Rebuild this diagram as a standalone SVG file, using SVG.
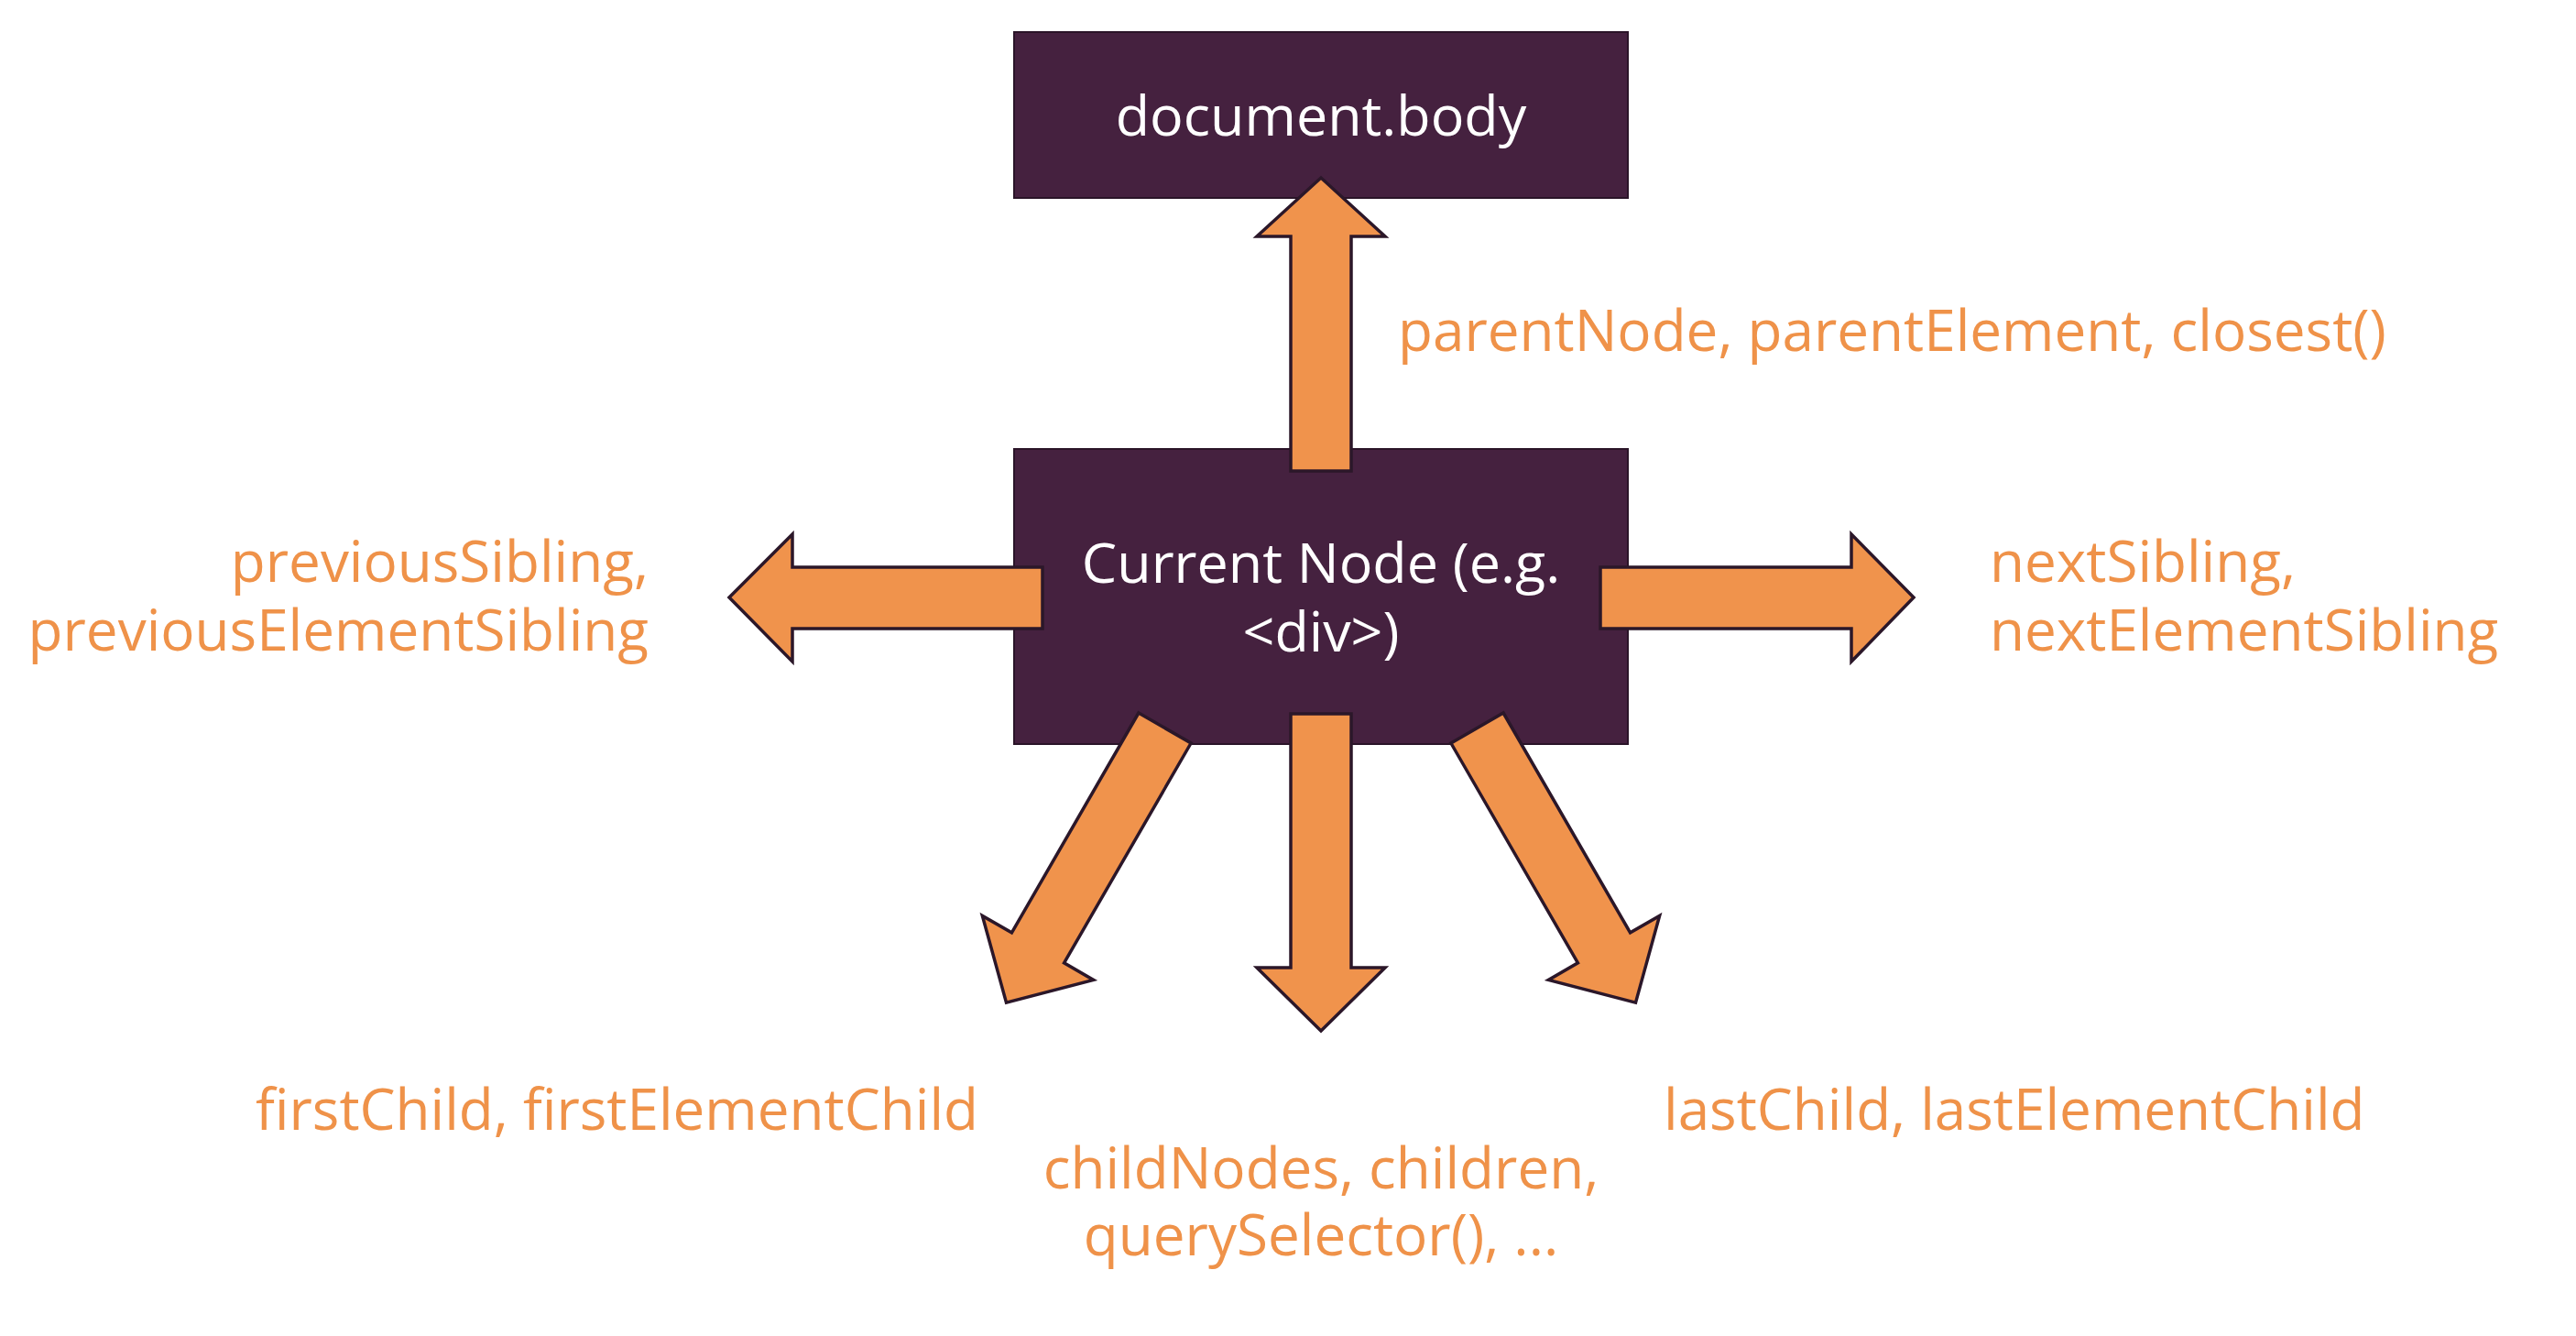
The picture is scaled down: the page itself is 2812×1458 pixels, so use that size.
<svg xmlns="http://www.w3.org/2000/svg" width="2812" height="1458" viewBox="0 0 2812 1458">
  <style>
    .box { fill: #45213F; stroke: #2a1428; stroke-width: 2; }
    .arrow { fill: #F0934C; stroke: #2b1729; stroke-width: 3.5; stroke-linejoin: miter; }
    .ntext { font-family: "Open Sans", "Noto Sans", sans-serif; font-size: 61px; fill: #FFFFFF; text-anchor: middle; }
    .label { font-family: "Open Sans", "Noto Sans", sans-serif; font-size: 62px; fill: #EF9249; }
  </style>
  <defs>
    <polygon id="downArrow" points="-33,0 33,0 33,277 70,277 0,346 -70,277 -33,277"/>
  </defs>
  <rect width="2812" height="1458" fill="#FFFFFF"/>

  <g id="node-body">
    <rect class="box" x="1107" y="35" width="670" height="181"/>
    <text class="ntext" x="1442" y="148">document.body</text>
  </g>

  <g id="node-current">
    <rect class="box" x="1107" y="490" width="670" height="322"/>
    <text class="ntext" x="1442" y="636">Current Node (e.g.</text>
    <text class="ntext" x="1442" y="711">&lt;div&gt;)</text>
  </g>

  <g id="connectors">
    <polygon class="arrow" points="1409,514 1409,258 1372,258 1442,194 1512,258 1475,258 1475,514"/>
    <polygon class="arrow" points="1138,619 865,619 865,583 796,652 865,722 865,686 1138,686"/>
    <polygon class="arrow" points="1747,619 2021,619 2021,583 2089,652 2021,722 2021,686 1747,686"/>
    <use href="#downArrow" class="arrow" transform="translate(1442,779)"/>
    <use href="#downArrow" class="arrow" transform="translate(1271.5,794.5) rotate(30)"/>
    <use href="#downArrow" class="arrow" transform="translate(1612.5,794.5) rotate(-30)"/>
  </g>

  <g id="labels">
    <text class="label" x="1526" y="383">parentNode, parentElement, closest()</text>
    <text class="label" x="708" y="635" text-anchor="end">previousSibling,</text>
    <text class="label" x="708" y="710" text-anchor="end">previousElementSibling</text>
    <text class="label" x="2172" y="635">nextSibling,</text>
    <text class="label" x="2172" y="710">nextElementSibling</text>
    <text class="label" x="279" y="1233">firstChild, firstElementChild</text>
    <text class="label" x="1816" y="1233">lastChild, lastElementChild</text>
    <text class="label" x="1442" y="1297" text-anchor="middle">childNodes, children,</text>
    <text class="label" x="1442" y="1370" text-anchor="middle">querySelector(), ...</text>
  </g>
</svg>
